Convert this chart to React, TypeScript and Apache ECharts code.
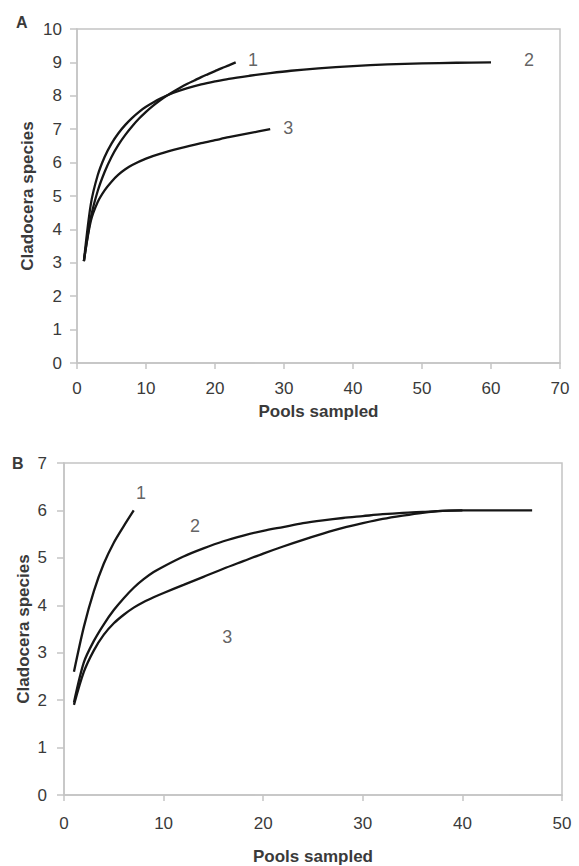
import React, { useEffect, useRef } from "react";
import * as echarts from "echarts";

// ---- Panel A data ----
const a1X = [1, 2, 3, 4, 5, 6, 7, 8, 9, 10, 11, 12, 13, 14, 15, 16, 17, 18, 19, 20, 21, 22, 23];
const a1Y = [3.05, 4.35, 5.15, 5.72, 6.17, 6.53, 6.83, 7.09, 7.32, 7.52, 7.7, 7.86, 8.0, 8.13, 8.25, 8.36, 8.46, 8.56, 8.65, 8.74, 8.83, 8.91, 9.0];
const a2X = [1, 2, 3, 4, 5, 6, 7, 8, 9, 10, 12, 14, 16, 18, 20, 22, 25, 28, 31, 35, 40, 45, 50, 55, 60];
const a2Y = [3.05, 4.75, 5.62, 6.17, 6.57, 6.88, 7.13, 7.34, 7.52, 7.67, 7.91, 8.09, 8.23, 8.34, 8.43, 8.51, 8.6, 8.68, 8.75, 8.82, 8.89, 8.94, 8.97, 8.99, 9.0];
const a3X = [1, 2, 3, 4, 5, 6, 7, 8, 10, 12, 15, 18, 20, 22, 25, 28];
const a3Y = [3.05, 4.25, 4.82, 5.17, 5.43, 5.64, 5.8, 5.93, 6.12, 6.26, 6.43, 6.58, 6.67, 6.76, 6.88, 7.0];

// ---- Panel B data ----
const b1X = [1, 2, 3, 4, 5, 6, 7];
const b1Y = [2.6, 3.55, 4.3, 4.88, 5.32, 5.67, 6.0];
const b2X = [1, 2, 3, 4, 5, 6, 7, 8, 9, 10, 12, 14, 16, 18, 20, 22, 24, 26, 28, 30, 32, 34, 36, 38, 40, 43, 47];
const b2Y = [1.95, 2.8, 3.25, 3.6, 3.9, 4.15, 4.37, 4.55, 4.7, 4.82, 5.03, 5.2, 5.35, 5.47, 5.57, 5.65, 5.73, 5.79, 5.84, 5.88, 5.92, 5.95, 5.97, 5.99, 6.0, 6.0, 6.0];
const b3X = [1, 2, 3, 4, 5, 6, 7, 8, 9, 10, 12, 14, 16, 18, 20, 22, 24, 26, 28, 30, 32, 34, 36, 38, 40];
const b3Y = [1.9, 2.6, 3.05, 3.38, 3.62, 3.8, 3.95, 4.07, 4.17, 4.26, 4.43, 4.6, 4.77, 4.93, 5.09, 5.24, 5.38, 5.51, 5.63, 5.73, 5.82, 5.89, 5.95, 5.99, 6.0];

// curve labels [x, y, text]
const aLabels: [number, number, string][] = [
  [25.5, 9.07, "1"],
  [65.5, 9.07, "2"],
  [30.6, 7.04, "3"],
];
const bLabels: [number, number, string][] = [
  [7.73, 6.37, "1"],
  [13.15, 5.67, "2"],
  [16.4, 3.34, "3"],
];

const aXTicks = { min: 0, max: 70, interval: 10 };
const aYTicks = { min: 0, max: 10, interval: 1 };
const bXTicks = { min: 0, max: 50, interval: 10 };
const bYTicks = { min: 0, max: 7, interval: 1 };

const xName = "Pools sampled";
const yName = "Cladocera species";

const zip = (xs: number[], ys: number[]) => xs.map((x, i) => [x, ys[i]]);

const AXIS_GRAY = "#c4c4c4";
const TEXT = "#3a3a3a";
const FONT = "Liberation Sans, Arial, sans-serif";

export default function App() {
  const ref = useRef<HTMLDivElement>(null);
  useEffect(() => {
    document.body.style.margin = "0";
    if (!ref.current) return;
    const chart = echarts.init(ref.current, undefined, { renderer: "svg" });

    const xAxisBase = (idx: number, t: any, margin: number, gap: number) => ({
      type: "value",
      gridIndex: idx,
      min: t.min,
      max: t.max,
      interval: t.interval,
      name: xName,
      nameLocation: "middle",
      nameGap: gap,
      nameMoveOverlap: false,
      nameTextStyle: { fontFamily: FONT, fontWeight: "bold", fontSize: 17, color: TEXT },
      axisLine: { show: true, lineStyle: { color: AXIS_GRAY, width: 1.5 } },
      axisTick: { show: true, inside: false, length: 6, lineStyle: { color: AXIS_GRAY, width: 1.5 } },
      axisLabel: { fontFamily: FONT, fontSize: 17, color: TEXT, margin },
      splitLine: { show: false },
    });
    const yAxisBase = (idx: number, t: any, margin: number, gap: number) => ({
      type: "value",
      gridIndex: idx,
      min: t.min,
      max: t.max,
      interval: t.interval,
      name: yName,
      nameLocation: "middle",
      nameGap: gap,
      nameMoveOverlap: false,
      nameTextStyle: { fontFamily: FONT, fontWeight: "bold", fontSize: 17, color: TEXT },
      axisLine: { show: true, lineStyle: { color: AXIS_GRAY, width: 1.5 } },
      axisTick: { show: true, inside: false, length: 7, lineStyle: { color: AXIS_GRAY, width: 1.5 } },
      axisLabel: { fontFamily: FONT, fontSize: 17, color: TEXT, margin },
      splitLine: { show: false },
    });

    const lineSeries = (data: number[][], idx: number) => ({
      type: "line",
      xAxisIndex: idx,
      yAxisIndex: idx,
      data,
      smooth: 0.3,
      showSymbol: false,
      symbol: "none",
      lineStyle: { color: "#161616", width: 2.3 },
      silent: true,
    });
    const labelSeries = (labels: [number, number, string][], idx: number) => ({
      type: "scatter",
      xAxisIndex: idx,
      yAxisIndex: idx,
      symbolSize: 0,
      data: labels.map((l) => ({ value: [l[0], l[1]], name: l[2] })),
      label: {
        show: true,
        position: "inside",
        formatter: (p: any) => p.name,
        fontFamily: FONT,
        fontSize: 18,
        color: TEXT,
      },
      silent: true,
    });

    chart.setOption({
      animation: false,
      backgroundColor: "#ffffff",
      grid: [
        { left: 77, top: 29, width: 483, height: 334, show: true, borderColor: AXIS_GRAY, borderWidth: 1.5, backgroundColor: "transparent" },
        { left: 64, top: 463, width: 498, height: 339, show: true, borderColor: AXIS_GRAY, borderWidth: 1.5, backgroundColor: "transparent" },
      ],
      xAxis: [xAxisBase(0, aXTicks, 17, 40), xAxisBase(1, bXTicks, 20, 53)],
      yAxis: [yAxisBase(0, aYTicks, 15, 41), yAxisBase(1, bYTicks, 17, 32)],
      series: [
        lineSeries(zip(a1X, a1Y), 0),
        lineSeries(zip(a2X, a2Y), 0),
        lineSeries(zip(a3X, a3Y), 0),
        labelSeries(aLabels, 0),
        lineSeries(zip(b1X, b1Y), 1),
        lineSeries(zip(b2X, b2Y), 1),
        lineSeries(zip(b3X, b3Y), 1),
        labelSeries(bLabels, 1),
      ],
      graphic: [
        { type: "text", left: 16, top: 14, style: { text: "A", fontFamily: FONT, fontSize: 16, fontWeight: "bold", fill: TEXT } },
        { type: "text", left: 12, top: 455, style: { text: "B", fontFamily: FONT, fontSize: 16, fontWeight: "bold", fill: TEXT } },
      ],
    });
    return () => chart.dispose();
  }, []);
  return <div ref={ref} style={{ width: 579, height: 866 }} />;
}
